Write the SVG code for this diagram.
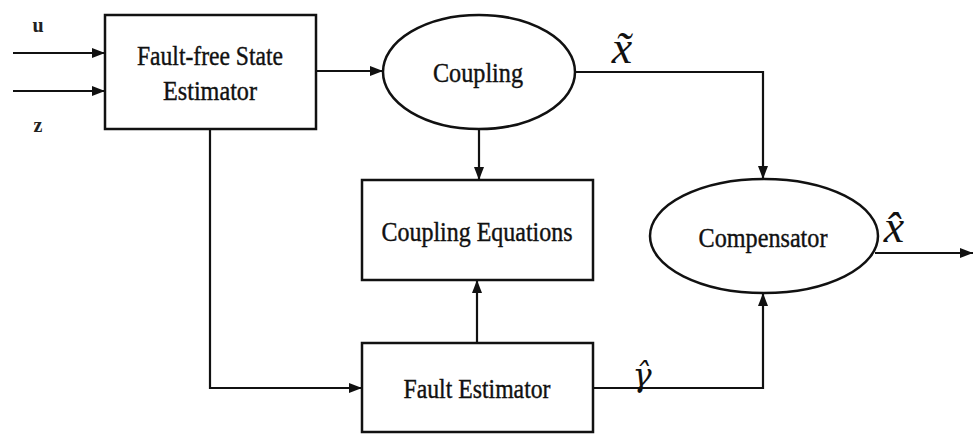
<svg xmlns="http://www.w3.org/2000/svg" width="973" height="434" viewBox="0 0 973 434">
<defs>
<marker id="arr" markerUnits="userSpaceOnUse" markerWidth="14" markerHeight="11" refX="13" refY="5.5" orient="auto">
<path d="M0,0.5 L13,5.5 L0,10.5 Z" fill="#111"/>
</marker>
<style>
.box{fill:#fff;stroke:#111;stroke-width:2.5}
.wire{fill:none;stroke:#111;stroke-width:2.2}
.lbl{font-family:"Liberation Serif","Times New Roman",serif;font-size:27px;fill:#111;stroke:#111;stroke-width:0.4;text-anchor:middle}
.io{font-family:"Liberation Serif","Times New Roman",serif;font-size:20px;font-weight:bold;fill:#222;text-anchor:middle}
.math{font-family:"Liberation Serif","Times New Roman",serif;font-style:italic;fill:#111;text-anchor:middle}
</style>
</defs>
<rect width="973" height="434" fill="#fff"/>
<g id="connectors">
<path class="wire" d="M13,53 H105" marker-end="url(#arr)"/>
<path class="wire" d="M13,91 H105" marker-end="url(#arr)"/>
<path class="wire" d="M316,71 H383" marker-end="url(#arr)"/>
<path class="wire" d="M479,129 V180" marker-end="url(#arr)"/>
<path class="wire" d="M210,129 V388 H362" marker-end="url(#arr)"/>
<path class="wire" d="M477,343 V280" marker-end="url(#arr)"/>
<path class="wire" d="M575,72 H763 V179" marker-end="url(#arr)"/>
<path class="wire" d="M593,388 H763 V293" marker-end="url(#arr)"/>
<path class="wire" d="M875,253 H973" marker-end="url(#arr)"/>
</g>
<g id="input-u"><text class="io" x="38" y="32">u</text></g>
<g id="input-z"><text class="io" x="38" y="132">z</text></g>
<g id="fault-free-state-estimator">
<rect class="box" x="105" y="15" width="211" height="114"/>
<text class="lbl" x="210" y="65" textLength="146" lengthAdjust="spacingAndGlyphs">Fault-free State</text>
<text class="lbl" x="210" y="100" textLength="94" lengthAdjust="spacingAndGlyphs">Estimator</text>
</g>
<g id="coupling">
<ellipse class="box" cx="479" cy="72" rx="96" ry="57"/>
<text class="lbl" x="478" y="82" textLength="90" lengthAdjust="spacingAndGlyphs">Coupling</text>
</g>
<g id="coupling-equations">
<rect class="box" x="362" y="180" width="231" height="100"/>
<text class="lbl" x="477" y="241" textLength="191" lengthAdjust="spacingAndGlyphs">Coupling Equations</text>
</g>
<g id="fault-estimator">
<rect class="box" x="362" y="343" width="231" height="89"/>
<text class="lbl" x="477" y="398" textLength="147" lengthAdjust="spacingAndGlyphs">Fault Estimator</text>
</g>
<g id="compensator">
<ellipse class="box" cx="764" cy="236" rx="114" ry="57"/>
<text class="lbl" x="763" y="247" textLength="129" lengthAdjust="spacingAndGlyphs">Compensator</text>
</g>
<g id="label-x-tilde">
<text class="math" x="622" y="63" font-size="46">x̃</text>
</g>
<g id="label-gamma-hat">
<text class="math" x="642" y="386" font-size="32" style="font-family:'DejaVu Serif',serif">γ̂</text>
</g>
<g id="label-x-hat">
<text class="math" x="894" y="242" font-size="46">x̂</text>
</g>
</svg>
